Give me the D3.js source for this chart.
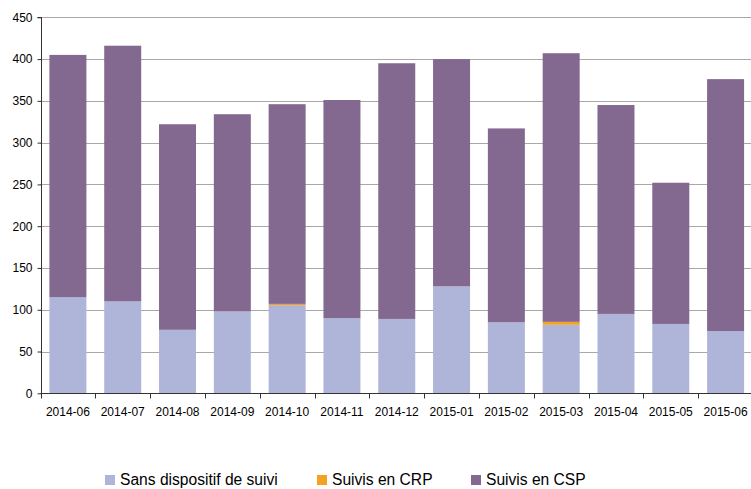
<!DOCTYPE html>
<html><head><meta charset="utf-8">
<script src="https://cdn.jsdelivr.net/npm/d3@7"></script>
<style>body{margin:0;background:#fff;}svg{display:block;font-family:"Liberation Sans",Arial,sans-serif;}</style>
</head><body>
<svg id="c" width="751" height="489"></svg>
<script>
const categories = ["2014-06","2014-07","2014-08","2014-09","2014-10","2014-11","2014-12","2015-01","2015-02","2015-03","2015-04","2015-05","2015-06"];
const sansDispositif = [115,110,76,98,105.5,90,89,128,85,82,95,83,74.5];
const suivisCRP = [0,0,0,0,1.5,0,0,0,0,3.5,0,0,0];
const totals = [405,416,322,334,346,351,395,400,317,407,345,252,376];
const suivisCSP = totals.map((t,i)=>t - sansDispositif[i] - suivisCRP[i]);
const yTicks = [0,50,100,150,200,250,300,350,400,450];
const seriesNames = ["Sans dispositif de suivi","Suivis en CRP","Suivis en CSP"];
const colors = ["#afb4d9","#f5a223","#83688f"];

const svg = d3.select("#c");
const x0 = 40.5, plotW = 712.5, yTop = 17.3, yBot = 393.3;
const x = d3.scaleBand().domain(categories).range([x0, x0+plotW]).paddingInner(0.325).paddingOuter(0.1625);
const y = d3.scaleLinear().domain([0,450]).range([yBot, yTop]);

// gridlines
svg.append("g").selectAll("line").data(yTicks.filter(d=>d>0)).join("line")
  .attr("x1", x0).attr("x2", 751)
  .attr("y1", d=>Math.round(y(d))+0.5).attr("y2", d=>Math.round(y(d))+0.5)
  .attr("stroke", "#a8a8a8").attr("stroke-width", 1);

const data = categories.map((c,i)=>({cat:c, a:sansDispositif[i], b:suivisCRP[i], c2:suivisCSP[i]}));
const stack = d3.stack().keys(["a","b","c2"])(data);
svg.append("g").selectAll("g").data(stack).join("g").attr("fill",(d,i)=>colors[i])
  .selectAll("rect").data(d=>d).join("rect")
  .attr("x", d=>x(d.data.cat)).attr("width", x.bandwidth())
  .attr("y", d=>y(d[1])).attr("height", d=>Math.max(0, y(d[0])-y(d[1])));

// y axis
const yAxis = d3.axisLeft(y).tickValues(yTicks).tickSize(4).tickPadding(5);
const gy = svg.append("g").attr("transform", `translate(${Math.round(x0)+0.5},0)`).call(yAxis);
gy.select(".domain").attr("stroke","#333").attr("d", `M-4,${Math.round(yTop)+0.5}H0V${Math.round(yBot)+0.5}`);
gy.selectAll(".tick line").attr("stroke","#333");
gy.selectAll("text").attr("font-size","12px").attr("fill","#000").attr("font-family","Liberation Sans, Arial, sans-serif");

// x axis
const step = x.step();
const gx = svg.append("g").attr("transform", `translate(0,${Math.round(yBot)+0.5})`);
gx.append("line").attr("x1", x0).attr("x2", 751).attr("stroke","#333");
const tickPos = d3.range(categories.length+1).map(i=>x0 + i*step);
gx.selectAll(".tk").data(tickPos).join("line").attr("class","tk")
  .attr("x1", d=>Math.round(d)+0.5).attr("x2", d=>Math.round(d)+0.5).attr("y1",0).attr("y2",5).attr("stroke","#333");
gx.selectAll("text").data(categories).join("text")
  .attr("x", d=>x(d)+x.bandwidth()/2).attr("y", 22)
  .attr("text-anchor","middle").attr("font-size","12px").attr("fill","#000").text(d=>d);

// legend
const legX = [105, 317, 471];
const lg = svg.append("g");
seriesNames.forEach((n,i)=>{
  lg.append("rect").attr("x", legX[i]).attr("y", 475).attr("width", 10).attr("height", 10).attr("fill", colors[i]);
  lg.append("text").attr("x", legX[i]+15).attr("y", 484.5).attr("font-size","15.6px").attr("fill","#000").text(n);
});
</script>
</body></html>
